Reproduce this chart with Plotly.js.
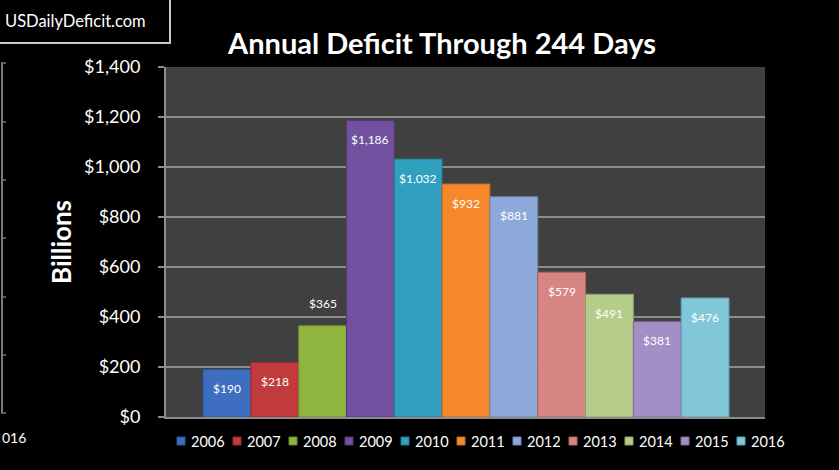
<!DOCTYPE html>
<html>
<head>
<meta charset="utf-8">
<script src="https://cdn.plot.ly/plotly-3.0.1.min.js"></script>
<style>
html,body{margin:0;padding:0;background:#000;}
#chart{width:839px;height:470px;}
</style>
</head>
<body>
<div id="chart"></div>
<script>
// ---- data ----
var years = [2006, 2007, 2008, 2009, 2010, 2011, 2012, 2013, 2014, 2015, 2016];
var deficits = [190, 218, 365, 1186, 1032, 932, 881, 579, 491, 381, 476];
var labels = ["$190", "$218", "$365", "$1,186", "$1,032", "$932", "$881", "$579", "$491", "$381", "$476"];
var labelAbove = [false, false, true, false, false, false, false, false, false, false, false];
var colors = ["#3d6ec0", "#c23b3c", "#8fb43f", "#71519f", "#31a0bf", "#f4882a",
              "#8ca9da", "#d68583", "#b5cc8a", "#a38fc5", "#82c7d9"];
var edgeColors = ["#2c5596", "#942b2c", "#6d8a2f", "#523a78", "#237a93", "#bf6920",
                  "#6c86b3", "#ab6563", "#8ca36a", "#7f6d9c", "#5f9fb0"];
var yTicks = [0, 200, 400, 600, 800, 1000, 1200, 1400];
var yTickLabels = ["$0", "$200", "$400", "$600", "$800", "$1,000", "$1,200", "$1,400"];

var FONT = "Lato, 'Open Sans', sans-serif";

var traces = years.map(function (yr, i) {
  return {
    type: "bar",
    name: String(yr),
    x: [yr],
    y: [deficits[i]],
    width: 1,
    marker: {color: colors[i], line: {color: edgeColors[i], width: 1}},
    hoverinfo: "name+y",
    showlegend: false
  };
});

var annotations = years.map(function (yr, i) {
  return {
    x: yr, y: deficits[i], xref: "x", yref: "y",
    text: labels[i], showarrow: false,
    xanchor: "center", yanchor: "middle",
    yshift: labelAbove[i] ? 22 : -19,
    font: {family: FONT, size: 12, color: "#ffffff"}
  };
});

function px(x) { return (x - 166) / 599; }
function py(y) { return (417 - y) / 350; }

// website label box text
annotations.push({
  xref: "paper", yref: "paper",
  x: px(3), y: py(21),
  xanchor: "left", yanchor: "middle", showarrow: false,
  text: "USDailyDeficit.com",
  font: {family: FONT, size: 16.5, color: "#ffffff"}
});
// y axis title
annotations.push({
  xref: "paper", yref: "paper",
  x: px(61), y: py(242),
  xanchor: "center", yanchor: "middle", showarrow: false,
  textangle: -90,
  text: "<b>Billions</b>",
  font: {family: FONT, size: 26, color: "#ffffff"}
});
// visible fragment of the neighbouring chart's label
annotations.push({
  xref: "paper", yref: "paper",
  x: px(0), y: py(437),
  xanchor: "left", yanchor: "middle", showarrow: false,
  text: "016",
  font: {family: FONT, size: 14, color: "#ffffff"}
});

var shapes = [
  {type: "rect", xref: "paper", yref: "paper", x0: px(-3), x1: px(170), y0: py(43), y1: py(-3),
   line: {color: "#c8c8c8", width: 2}, fillcolor: "rgba(0,0,0,0)"},
  {type: "line", xref: "paper", yref: "paper", x0: px(2), x1: px(2), y0: py(63), y1: py(413),
   line: {color: "#7a7a7a", width: 2}}
];
[63, 122, 180, 238, 297, 355, 413].forEach(function (t) {
  shapes.push({type: "line", xref: "paper", yref: "paper", x0: px(1), x1: px(6), y0: py(t), y1: py(t),
               line: {color: "#7a7a7a", width: 1.5}});
});

// legend row (one entry per series, built from the series arrays)
var LEG_X0 = 177, LEG_PITCH = 56, LEG_Y = 441;
years.forEach(function (yr, i) {
  var x = LEG_X0 + i * LEG_PITCH;
  shapes.push({type: "rect", xref: "paper", yref: "paper",
               x0: px(x), x1: px(x + 8), y0: py(LEG_Y + 4), y1: py(LEG_Y - 4),
               fillcolor: colors[i], line: {color: edgeColors[i], width: 1}});
  annotations.push({xref: "paper", yref: "paper", x: px(x + 12), y: py(LEG_Y),
                    xanchor: "left", yanchor: "middle", showarrow: false,
                    text: String(yr),
                    font: {family: FONT, size: 14.5, color: "#ffffff"}});
});

var layout = {
  width: 839, height: 470,
  paper_bgcolor: "#000000",
  plot_bgcolor: "#404040",
  margin: {l: 166, r: 74, t: 67, b: 53, pad: 0},
  barmode: "overlay",
  showlegend: false,
  title: {
    text: "<b>Annual Deficit Through 244 Days</b>",
    x: px(442), xref: "paper", xanchor: "center",
    y: 1 - 44 / 470, yref: "container", yanchor: "middle",
    font: {family: FONT, size: 29, color: "#ffffff"}
  },
  xaxis: {
    range: [2004.726, 2017.253],
    showticklabels: false, showgrid: false, zeroline: false,
    showline: true, linecolor: "#8c8c8c", linewidth: 2,
    ticks: "", fixedrange: true
  },
  yaxis: {
    range: [0, 1400],
    tickmode: "array",
    tickvals: yTicks,
    ticktext: yTickLabels,
    tickfont: {family: FONT, size: 18, color: "#ffffff"},
    ticks: "outside", ticklen: 6, tickcolor: "#8c8c8c", tickwidth: 2,
    ticklabelstandoff: 14,
    showgrid: true, gridcolor: "#8c8c8c", gridwidth: 1.5,
    zeroline: false,
    showline: true, linecolor: "#8c8c8c", linewidth: 2,
    fixedrange: true
  },
  annotations: annotations,
  shapes: shapes
};

Plotly.newPlot("chart", traces, layout, {displayModeBar: false, staticPlot: true});
</script>
</body>
</html>
